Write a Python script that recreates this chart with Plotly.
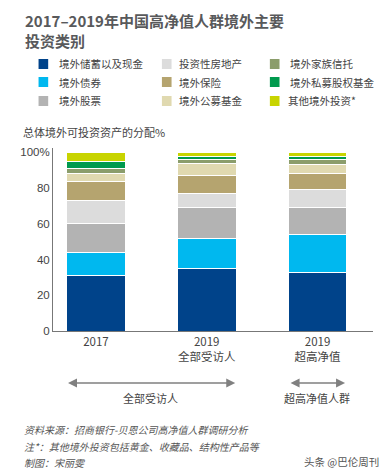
import plotly.graph_objects as go

categories = ["2017", "2019<br>全部受访人", "2019<br>超高净值"]
series_names = ["境外储蓄以及现金", "境外债券", "境外股票", "投资性房地产", "境外保险",
                "境外公募基金", "境外家族信托", "境外私募股权基金", "其他境外投资*"]
series_colors = ["#00438a", "#00b8ef", "#b3b3b3", "#dcdcdc", "#b5a46f",
                 "#e0d9b0", "#8b9d6b", "#009a4e", "#c8d400"]
savings = [31, 35, 33]
bonds = [13, 17, 21]
stocks = [16, 17, 15]
real_estate = [13, 8, 10]
insurance = [11, 10, 9]
public_funds = [4, 7, 5]
family_trust = [3, 2, 3]
private_equity = [4, 2, 2]
other = [5, 2, 2]
series_values = [savings, bonds, stocks, real_estate, insurance,
                 public_funds, family_trust, private_equity, other]
y_tickvals = [0, 20, 40, 60, 80, 100]
y_ticktext = ["0", "20", "40", "60", "80", "100%"]

OFF = 8  # page body margin offset
W, H = 389 - OFF, 474 - OFF
# plot area in reference (window) pixels
L, R, T, B = 41, 373, 148, 331

def px(x):
    return (x - L) / (R - L)

def py(y):
    return (B - y) / (B - T)

CJK = "Noto Sans CJK SC, Liberation Sans, Arial, sans-serif"
GRAY = "#58595b"

fig = go.Figure()
for name, color, vals in zip(series_names, series_colors, series_values):
    fig.add_trace(go.Bar(
        x=categories, y=vals, name=name,
        marker=dict(color=color, line=dict(color="white", width=1)),
        width=0.53, showlegend=False,
    ))

annotations = []
shapes = []

# Title
annotations.append(dict(text="<b>2017–2019年中国高净值人群境外主要<br>投资类别</b>", x=px(10), y=py(8),
                        xref="paper", yref="paper", xanchor="left", yanchor="top", align="left",
                        showarrow=False, font=dict(size=15, color=GRAY, family=CJK)))

# Manual legend (3 columns, column-major)
col_sq_x = [26, 154, 266]
col_tx_x = [45, 170, 285]
row_y = [64, 82, 101]
for i, (name, color) in enumerate(zip(series_names, series_colors)):
    c, r = i // 3, i % 3
    sx = col_sq_x[c]
    yy = row_y[r]
    shapes.append(dict(type="rect", xref="paper", yref="paper",
                       x0=px(sx), x1=px(sx + 10), y0=py(yy + 5), y1=py(yy - 5),
                       fillcolor=color, line=dict(width=0)))
    tx = col_tx_x[c] - (2 if name.startswith("其他") else 0)
    annotations.append(dict(text=name, x=px(tx), y=py(yy), xref="paper", yref="paper",
                            xanchor="left", yanchor="middle", showarrow=False,
                            font=dict(size=10.5, color="#444444", family=CJK)))

# y axis caption
annotations.append(dict(text="总体境外可投资资产的分配%", x=px(8), y=py(132),
                        xref="paper", yref="paper", xanchor="left", yanchor="middle",
                        showarrow=False, font=dict(size=11, color="#444444", family=CJK)))

# Group arrows
arrow_y = py(383)
for x0, x1, label in [(-0.265, 1.257, "全部受访人"), (1.743, 2.248, "超高净值人群")]:
    annotations.append(dict(x=x1, y=arrow_y, ax=x0, ay=0, xref="x", yref="paper",
                            axref="x", ayref="pixel", text="", showarrow=True,
                            arrowhead=2, startarrowhead=2, arrowside="end+start",
                            arrowsize=1.2, startarrowsize=1.2, arrowwidth=1.5,
                            arrowcolor="#808080"))
    annotations.append(dict(text=label, x=(x0 + x1) / 2, y=py(398), xref="x", yref="paper",
                            xanchor="center", yanchor="middle", showarrow=False,
                            font=dict(size=11, color="#444444", family=CJK)))

# Footnotes
notes = ["资料来源：招商银行-贝恩公司高净值人群调研分析",
         "注*：其他境外投资包括黄金、收藏品、结构性产品等",
         "制图：宋丽雯"]
for t, yy in zip(notes, [429, 446, 462]):
    annotations.append(dict(text="<i>" + t + "</i>", x=px(9), y=py(yy), xref="paper", yref="paper",
                            xanchor="left", yanchor="middle", showarrow=False,
                            font=dict(size=10, color="#555555", family=CJK)))
annotations.append(dict(text="头条 @巴伦周刊", x=px(381), y=py(461), xref="paper", yref="paper",
                        xanchor="right", yanchor="middle", showarrow=False,
                        font=dict(size=10.5, color="#555555", family=CJK)))

fig.update_layout(
    width=W, height=H,
    margin=dict(l=L - OFF, r=389 - R, t=T - OFF, b=474 - B),
    barmode="stack",
    plot_bgcolor="white", paper_bgcolor="white",
    annotations=annotations, shapes=shapes,
    font=dict(family=CJK, color="#444444"),
    xaxis=dict(range=[-0.387, 2.5], showgrid=False, showline=True, linecolor="#777777",
               linewidth=1, ticks="", tickfont=dict(size=11.5, color="#444444", family=CJK)),
    yaxis=dict(range=[0, 102.5], showgrid=False, showline=True, linecolor="#777777",
               linewidth=1, ticks="", tickvals=y_tickvals, ticktext=y_ticktext,
               tickfont=dict(size=11.5, color="#444444", family="Liberation Sans, Arial, sans-serif"),
               zeroline=False),
)

fig.write_html("out.html")
